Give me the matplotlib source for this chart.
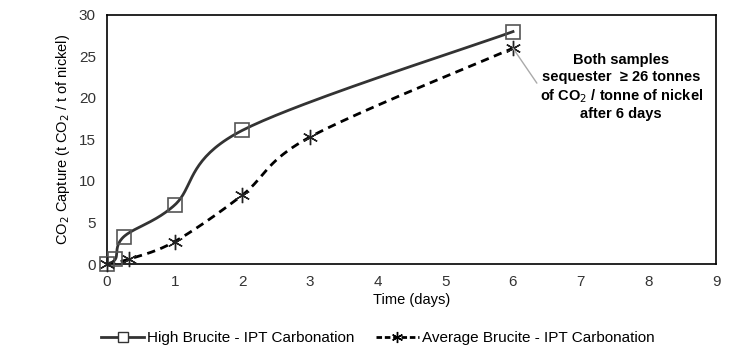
import matplotlib.pyplot as plt
import numpy as np

plt.rcParams['font.family'] = ['Liberation Sans', 'DejaVu Sans']

high_days = [0, 0.125, 0.25, 1, 2, 6]
high_co2 = [0, 0.6, 3.3, 7.1, 16.1, 28.0]
avg_days = [0, 0.33, 1, 2, 3, 6]
avg_co2 = [0, 0.6, 2.7, 8.3, 15.3, 26.0]


def smooth(x, y, n=40):
    # Excel-like smoothed line: cubic Bezier between points
    x = np.asarray(x, float)
    y = np.asarray(y, float)
    px, py = [], []
    for i in range(len(x) - 1):
        i0 = max(i - 1, 0)
        i3 = min(i + 2, len(x) - 1)
        c1x = x[i] + (x[i + 1] - x[i0]) / 6
        c1y = y[i] + (y[i + 1] - y[i0]) / 6
        c2x = x[i + 1] - (x[i3] - x[i]) / 6
        c2y = y[i + 1] - (y[i3] - y[i]) / 6
        t = np.linspace(0, 1, n)
        bx = (1-t)**3*x[i] + 3*(1-t)**2*t*c1x + 3*(1-t)*t**2*c2x + t**3*x[i+1]
        by = (1-t)**3*y[i] + 3*(1-t)**2*t*c1y + 3*(1-t)*t**2*c2y + t**3*y[i+1]
        px.extend(bx)
        py.extend(by)
    return px, py


fig = plt.figure(figsize=(7.46, 3.57), dpi=100)
ax = fig.add_axes([0.1434, 0.2605, 0.8164, 0.6975])

sx, sy = smooth(high_days, high_co2)
ax.plot(sx, sy, color='#333333', lw=2, zorder=2)
ax.plot(high_days, high_co2, ls='none', marker='s', ms=10, mfc='none',
        mec='#555555', mew=1.2, zorder=3, clip_on=False)

sx, sy = smooth(avg_days, avg_co2)
ax.plot(sx, sy, color='black', lw=2, ls=(0, (3, 2)), zorder=2)
ax.plot(avg_days, avg_co2, ls='none', marker=(6, 2, 0), ms=11,
        color='#222222', mew=1.0, zorder=3, clip_on=False)

# legend proxies
ax.plot([], [], color='#333333', lw=2, marker='s', ms=7, mfc='white',
        mec='#333333', label='High Brucite - IPT Carbonation')
ax.plot([], [], color='black', lw=2, ls=(0, (2, 1)), marker=(6, 2, 0), ms=8,
        label='Average Brucite - IPT Carbonation')

ax.set_xlim(0, 9)
ax.set_ylim(0, 30)
ax.set_xticks(range(0, 10))
ax.set_yticks(range(0, 31, 5))
ax.tick_params(length=0, labelsize=11, colors='#333333', pad=8)
for s in ax.spines.values():
    s.set_linewidth(1.2)

ax.set_xlabel('Time (days)', fontsize=10.5, labelpad=3)
ax.set_ylabel('CO$_2$ Capture (t CO$_2$ / t of nickel)', fontsize=10.5, labelpad=5)

ax.annotate('Both samples\nsequester  ≥ 26 tonnes\nof CO$_2$ / tonne of nickel\nafter 6 days',
            xy=(6, 26), xytext=(7.6, 21.3), ha='center', va='center',
            fontsize=10.5, fontweight='bold', linespacing=1.25,
            arrowprops=dict(arrowstyle='-', color='#aaaaaa', lw=1,
                            relpos=(0, 0.5), shrinkA=0, shrinkB=0))

ax.legend(loc='upper center', bbox_to_anchor=(0.445, -0.215), ncol=2,
          frameon=False, fontsize=11, handlelength=2.8, columnspacing=1.4,
          handletextpad=0.2)

fig.savefig('out.png', dpi=100)
